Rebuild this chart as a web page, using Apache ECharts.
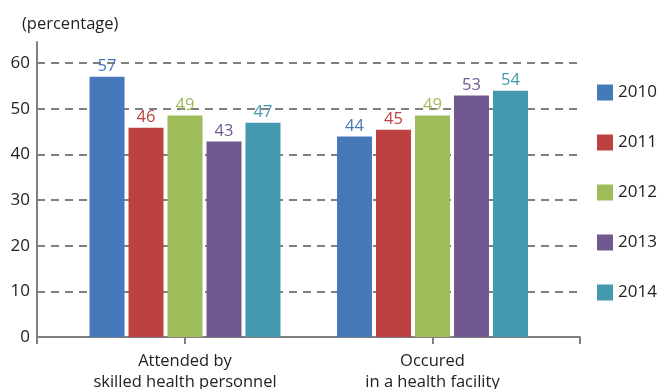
<!DOCTYPE html>
<html><head><meta charset="utf-8">
<script src="https://cdn.jsdelivr.net/npm/echarts@6/dist/echarts.min.js"></script>
<style>html,body{margin:0;padding:0;background:#fff}#c{width:661px;height:389px}</style>
</head><body><div id="c"></div>
<script>
const categories = ['Attended by\nskilled health personnel', 'Occured\nin a health facility'];
const years = ['2010', '2011', '2012', '2013', '2014'];
const s2010 = [57, 43.9];
const s2011 = [45.8, 45.4];
const s2012 = [48.5, 48.5];
const s2013 = [42.8, 52.9];
const s2014 = [46.9, 53.9];
const colors = ['#4679BA', '#BC4140', '#9EBC5A', '#715890', '#4499AF'];
const seriesData = [s2010, s2011, s2012, s2013, s2014];
const font = '"Open Sans", "Noto Sans", sans-serif';
const xMin = -0.598, xMax = 1.596;

const chart = echarts.init(document.getElementById('c'));
chart.setOption({
  animation: false,
  textStyle: { fontFamily: font },
  title: {
    text: '(percentage)', left: 17, top: 11,
    textStyle: { fontSize: 16.5, fontWeight: 'normal', color: '#222', fontFamily: font }
  },
  legend: {
    orient: 'vertical', left: 592, top: 79, itemGap: 33,
    itemWidth: 16, itemHeight: 16, icon: 'rect',
    textStyle: { fontSize: 17, color: '#222', fontFamily: font, padding: [0,0,0,0] },
    data: years
  },
  grid: { left: 37, right: 81, top: 42, bottom: 52, containLabel: false, outerBoundsMode: 'none' },
  xAxis: {
    type: 'value', min: xMin, max: xMax,
    axisLine: { show: true, onZero: false, lineStyle: { color: '#808080', width: 2 } },
    axisTick: { show: true, length: 7, customValues: [xMin, 0, 1, xMax],
      lineStyle: { color: '#808080', width: 2 } },
    axisLabel: { fontSize: 16.5, color: '#222', lineHeight: 21, margin: 14, fontFamily: font,
      customValues: [0, 1],
      formatter: v => (categories[Math.round(v)] || '') },
    splitLine: { show: false }
  },
  yAxis: {
    type: 'value', min: 0, max: 64.6, interval: 10,
    axisLine: { show: true, onZero: false, lineStyle: { color: '#808080', width: 2 } },
    axisTick: { show: false },
    axisLabel: { fontSize: 17, color: '#222', margin: 7, fontFamily: font, showMaxLabel: false,
      formatter: v => (v % 10 === 0 ? String(v) : '') },
    splitLine: { show: true, showMinLine: false, showMaxLine: false,
      lineStyle: { color: '#808080', width: 2, type: [8, 6] } }
  },
  series: years.map((y, i) => ({
    name: y, type: 'bar', data: seriesData[i].map((v, k) => [k, v]), barWidth: 35, barGap: '11.4%',
    itemStyle: { color: colors[i] },
    label: { show: true, position: 'top', distance: 2, fontSize: 16.5, color: colors[i], fontFamily: font,
      formatter: p => Math.round(p.value[1]) }
  }))
});
</script></body></html>
